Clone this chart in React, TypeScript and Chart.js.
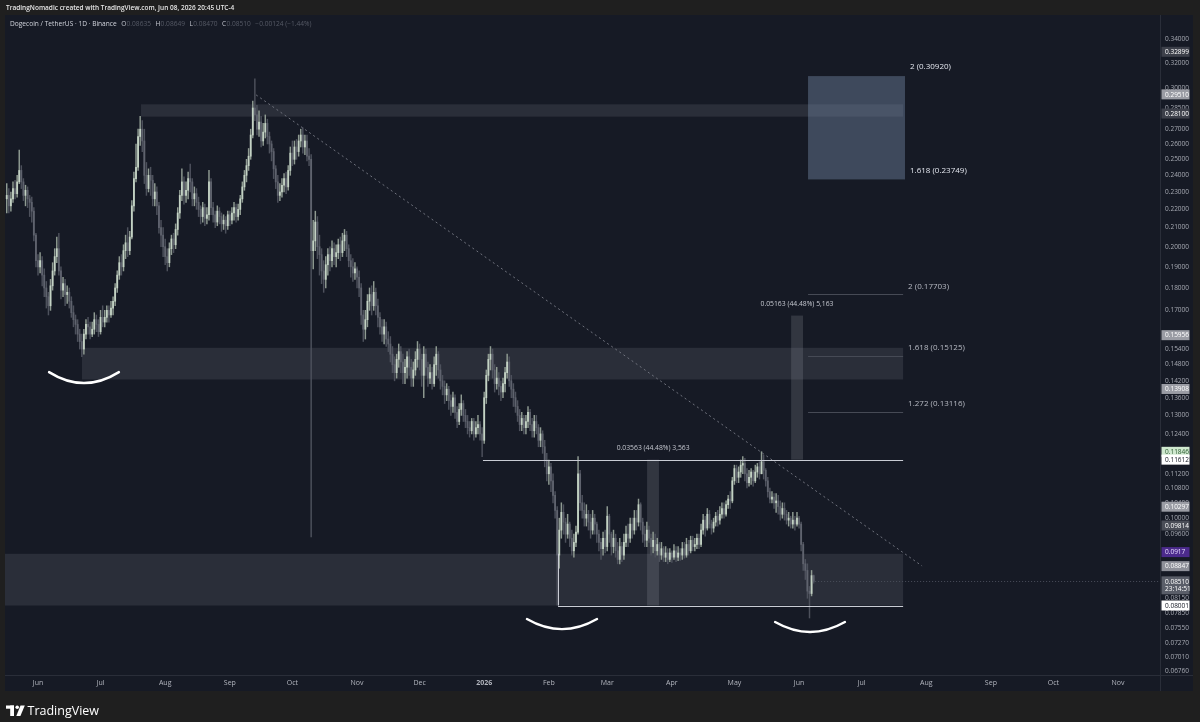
import React, { useEffect, useRef } from "react";
import { Chart, registerables } from "chart.js";

Chart.register(...registerables);

// Daily DOGE/USDT candles. Day index counted from 2025-06-01 (day 0).
const firstDay = -15; // 2025-05-17
const firstOpen = 0.226; // open of first candle; later opens = previous close

const closes = [
  0.228, 0.222, 0.226, 0.232, 0.229, 0.236, 0.243, 0.236, 0.228, 0.231,
  0.226, 0.224, 0.219, 0.206, 0.193, 0.19, 0.193, 0.186, 0.18, 0.176,
  0.172, 0.181, 0.188, 0.195, 0.199, 0.188, 0.179, 0.182, 0.177, 0.178,
  0.174, 0.169, 0.166, 0.164, 0.16, 0.157, 0.154, 0.16, 0.164, 0.163,
  0.16, 0.162, 0.166, 0.164, 0.161, 0.167, 0.165, 0.167, 0.17, 0.168,
  0.171, 0.174, 0.18, 0.186, 0.192, 0.19, 0.198, 0.202, 0.198, 0.205,
  0.222, 0.238, 0.245, 0.265, 0.27, 0.262, 0.24, 0.232, 0.24, 0.237,
  0.226, 0.23, 0.222, 0.21, 0.206, 0.2, 0.195, 0.192, 0.199, 0.204,
  0.201, 0.209, 0.218, 0.228, 0.236, 0.228, 0.231, 0.238, 0.236, 0.226,
  0.229, 0.224, 0.22, 0.216, 0.221, 0.215, 0.217, 0.236, 0.221, 0.217,
  0.213, 0.219, 0.216, 0.212, 0.214, 0.211, 0.217, 0.214, 0.218, 0.221,
  0.216, 0.22, 0.226, 0.233, 0.24, 0.246, 0.252, 0.266, 0.285, 0.28,
  0.27, 0.275, 0.262, 0.268, 0.274, 0.265, 0.26, 0.255, 0.244, 0.236,
  0.228, 0.23, 0.234, 0.238, 0.233, 0.243, 0.254, 0.25, 0.258, 0.255,
  0.262, 0.266, 0.258, 0.262, 0.252, 0.25, 0.198, 0.203, 0.213, 0.2,
  0.196, 0.188, 0.184, 0.191, 0.196, 0.193, 0.199, 0.195, 0.197, 0.201,
  0.197, 0.203, 0.206, 0.199, 0.193, 0.19, 0.187, 0.189, 0.185, 0.18,
  0.168, 0.162, 0.166, 0.174, 0.177, 0.172, 0.178, 0.172, 0.167, 0.163,
  0.16, 0.163, 0.158, 0.156, 0.152, 0.148, 0.145, 0.15, 0.153, 0.149,
  0.145, 0.147, 0.151, 0.147, 0.143, 0.146, 0.15, 0.154, 0.15, 0.144,
  0.152, 0.147, 0.143, 0.145, 0.141, 0.148, 0.152, 0.146, 0.142, 0.14,
  0.137, 0.139, 0.135, 0.133, 0.136, 0.131, 0.128, 0.132, 0.134, 0.13,
  0.128, 0.126, 0.125, 0.128, 0.124, 0.126, 0.127, 0.124, 0.122, 0.136,
  0.144, 0.15, 0.152, 0.146, 0.141, 0.143, 0.14, 0.138, 0.141, 0.145,
  0.149, 0.142, 0.139, 0.136, 0.133, 0.13, 0.127, 0.129, 0.126, 0.128,
  0.131, 0.127, 0.125, 0.128, 0.126, 0.122, 0.124, 0.12, 0.116, 0.112,
  0.114, 0.11, 0.106, 0.102, 0.091, 0.097, 0.1015, 0.099, 0.096, 0.0985,
  0.095, 0.092, 0.094, 0.0965, 0.112, 0.104, 0.102, 0.1, 0.101, 0.099,
  0.097, 0.1, 0.0985, 0.096, 0.094, 0.0925, 0.095, 0.093, 0.1005, 0.096,
  0.093, 0.095, 0.092, 0.09, 0.093, 0.091, 0.094, 0.096, 0.095, 0.0985,
  0.097, 0.1, 0.099, 0.1035, 0.099, 0.096, 0.0945, 0.097, 0.095, 0.093,
  0.0945, 0.092, 0.0935, 0.091, 0.0925, 0.0905, 0.0915, 0.09, 0.0915, 0.0905,
  0.092, 0.0905, 0.0915, 0.091, 0.0925, 0.091, 0.0935, 0.092, 0.0945, 0.093,
  0.0935, 0.095, 0.0935, 0.097, 0.0995, 0.0975, 0.101, 0.0985, 0.0975, 0.099,
  0.1005, 0.0995, 0.101, 0.1025, 0.101, 0.1035, 0.105, 0.1045, 0.11, 0.1135,
  0.111, 0.1125, 0.1145, 0.115, 0.112, 0.1095, 0.111, 0.1125, 0.11, 0.1125,
  0.114, 0.112, 0.1155, 0.113, 0.11, 0.107, 0.105, 0.1055, 0.104, 0.1045,
  0.103, 0.101, 0.1025, 0.101, 0.0995, 0.1, 0.0985, 0.0995, 0.0985, 0.1,
  0.0985, 0.0935, 0.089, 0.0875, 0.083, 0.0825, 0.08635, 0.0851,
];

const highs = [
  0.235, 0.232, 0.23, 0.236, 0.237, 0.24, 0.256, 0.246, 0.238, 0.234,
  0.233, 0.228, 0.227, 0.221, 0.207, 0.196, 0.197, 0.195, 0.189, 0.183,
  0.178, 0.184, 0.192, 0.199, 0.205, 0.207, 0.19, 0.185, 0.184, 0.181,
  0.18, 0.176, 0.172, 0.168, 0.166, 0.162, 0.16, 0.162, 0.166, 0.167,
  0.165, 0.165, 0.169, 0.168, 0.166, 0.17, 0.172, 0.17, 0.172, 0.172,
  0.174, 0.176, 0.182, 0.188, 0.195, 0.196, 0.201, 0.206, 0.21, 0.208,
  0.225, 0.242, 0.26, 0.27, 0.279, 0.276, 0.27, 0.248, 0.244, 0.245,
  0.24, 0.235, 0.233, 0.224, 0.214, 0.21, 0.204, 0.199, 0.202, 0.206,
  0.207, 0.212, 0.221, 0.231, 0.244, 0.239, 0.236, 0.242, 0.247, 0.238,
  0.233, 0.232, 0.227, 0.222, 0.224, 0.223, 0.221, 0.243, 0.238, 0.224,
  0.219, 0.222, 0.221, 0.218, 0.217, 0.216, 0.219, 0.219, 0.221, 0.224,
  0.223, 0.223, 0.228, 0.236, 0.243, 0.25, 0.257, 0.27, 0.29, 0.307,
  0.287, 0.283, 0.279, 0.274, 0.28, 0.277, 0.268, 0.262, 0.257, 0.246,
  0.24, 0.235, 0.238, 0.241, 0.242, 0.246, 0.258, 0.262, 0.262, 0.263,
  0.266, 0.27, 0.271, 0.266, 0.266, 0.257, 0.253, 0.214, 0.219, 0.216,
  0.206, 0.199, 0.193, 0.195, 0.199, 0.2, 0.203, 0.202, 0.201, 0.204,
  0.205, 0.207, 0.209, 0.208, 0.201, 0.196, 0.194, 0.192, 0.19, 0.188,
  0.182, 0.17, 0.17, 0.177, 0.18, 0.181, 0.183, 0.18, 0.175, 0.169,
  0.166, 0.166, 0.165, 0.161, 0.159, 0.155, 0.151, 0.152, 0.156, 0.155,
  0.152, 0.15, 0.153, 0.154, 0.15, 0.149, 0.153, 0.157, 0.156, 0.152,
  0.155, 0.154, 0.149, 0.148, 0.147, 0.151, 0.155, 0.153, 0.148, 0.144,
  0.142, 0.141, 0.14, 0.137, 0.138, 0.137, 0.133, 0.134, 0.137, 0.135,
  0.132, 0.13, 0.128, 0.129, 0.129, 0.128, 0.13, 0.128, 0.126, 0.138,
  0.146, 0.152, 0.155, 0.154, 0.148, 0.147, 0.145, 0.142, 0.143, 0.147,
  0.152, 0.151, 0.144, 0.141, 0.138, 0.135, 0.132, 0.131, 0.13, 0.13,
  0.133, 0.132, 0.129, 0.13, 0.13, 0.127, 0.126, 0.125, 0.122, 0.118,
  0.116, 0.115, 0.112, 0.107, 0.103, 0.1, 0.104, 0.1035, 0.1, 0.101,
  0.099, 0.097, 0.096, 0.098, 0.117, 0.113, 0.106, 0.104, 0.1035, 0.102,
  0.101, 0.102, 0.101, 0.099, 0.097, 0.095, 0.0965, 0.097, 0.103, 0.101,
  0.0965, 0.097, 0.096, 0.094, 0.095, 0.094, 0.096, 0.098, 0.0985, 0.1,
  0.1, 0.102, 0.102, 0.105, 0.104, 0.1, 0.098, 0.099, 0.098, 0.096,
  0.0965, 0.096, 0.095, 0.094, 0.094, 0.093, 0.093, 0.0925, 0.0925, 0.092,
  0.0935, 0.093, 0.093, 0.0925, 0.094, 0.094, 0.095, 0.0945, 0.0955, 0.0955,
  0.095, 0.096, 0.096, 0.0985, 0.101, 0.1005, 0.1025, 0.102, 0.0995, 0.1,
  0.1015, 0.102, 0.103, 0.104, 0.104, 0.1045, 0.106, 0.107, 0.111, 0.1145,
  0.1145, 0.114, 0.116, 0.117, 0.1165, 0.1135, 0.113, 0.1135, 0.113, 0.1145,
  0.115, 0.1155, 0.1185, 0.1175, 0.1135, 0.111, 0.108, 0.107, 0.1065, 0.1065,
  0.106, 0.1045, 0.104, 0.104, 0.102, 0.1015, 0.1005, 0.1015, 0.1005, 0.1015,
  0.1005, 0.099, 0.094, 0.09, 0.089, 0.084, 0.0875, 0.08649,
];

const lows = [
  0.218, 0.218, 0.219, 0.224, 0.226, 0.227, 0.235, 0.232, 0.225, 0.222,
  0.221, 0.216, 0.213, 0.203, 0.19, 0.186, 0.187, 0.181, 0.176, 0.171,
  0.168, 0.17, 0.179, 0.186, 0.192, 0.186, 0.175, 0.176, 0.172, 0.173,
  0.171, 0.167, 0.163, 0.16, 0.157, 0.154, 0.151, 0.152, 0.158, 0.16,
  0.158, 0.159, 0.16, 0.161, 0.159, 0.16, 0.163, 0.163, 0.165, 0.165,
  0.167, 0.168, 0.172, 0.178, 0.184, 0.186, 0.188, 0.194, 0.195, 0.196,
  0.204, 0.219, 0.236, 0.243, 0.259, 0.255, 0.235, 0.228, 0.23, 0.228,
  0.222, 0.222, 0.217, 0.207, 0.2, 0.195, 0.191, 0.188, 0.19, 0.196,
  0.197, 0.199, 0.206, 0.215, 0.225, 0.223, 0.224, 0.226, 0.23, 0.222,
  0.222, 0.22, 0.216, 0.212, 0.213, 0.211, 0.212, 0.214, 0.217, 0.213,
  0.21, 0.211, 0.212, 0.208, 0.209, 0.207, 0.209, 0.211, 0.212, 0.214,
  0.213, 0.214, 0.217, 0.224, 0.231, 0.236, 0.243, 0.25, 0.264, 0.276,
  0.266, 0.265, 0.258, 0.259, 0.264, 0.26, 0.254, 0.249, 0.238, 0.232,
  0.224, 0.225, 0.227, 0.23, 0.229, 0.231, 0.24, 0.246, 0.247, 0.25,
  0.252, 0.258, 0.254, 0.253, 0.249, 0.246, 0.0953, 0.189, 0.198, 0.194,
  0.186, 0.182, 0.178, 0.18, 0.186, 0.188, 0.19, 0.191, 0.19, 0.194,
  0.193, 0.195, 0.198, 0.195, 0.19, 0.185, 0.183, 0.184, 0.18, 0.176,
  0.164, 0.157, 0.158, 0.163, 0.17, 0.168, 0.17, 0.168, 0.163, 0.16,
  0.157, 0.156, 0.155, 0.153, 0.149, 0.145, 0.142, 0.143, 0.147, 0.145,
  0.141, 0.141, 0.143, 0.144, 0.14, 0.14, 0.144, 0.147, 0.146, 0.14,
  0.136, 0.144, 0.14, 0.141, 0.139, 0.14, 0.144, 0.143, 0.139, 0.137,
  0.134, 0.135, 0.132, 0.13, 0.131, 0.129, 0.126, 0.127, 0.13, 0.128,
  0.126, 0.124, 0.123, 0.124, 0.122, 0.123, 0.124, 0.122, 0.117, 0.121,
  0.134, 0.142, 0.146, 0.143, 0.138, 0.139, 0.137, 0.135, 0.136, 0.138,
  0.143, 0.14, 0.136, 0.133, 0.131, 0.128, 0.125, 0.125, 0.124, 0.124,
  0.126, 0.125, 0.123, 0.123, 0.124, 0.12, 0.12, 0.118, 0.114, 0.11,
  0.109, 0.107, 0.104, 0.1, 0.0801, 0.088, 0.095, 0.096, 0.094, 0.095,
  0.093, 0.091, 0.0905, 0.093, 0.096, 0.102, 0.1, 0.098, 0.098, 0.097,
  0.095, 0.096, 0.096, 0.094, 0.092, 0.09, 0.091, 0.0915, 0.092, 0.094,
  0.091, 0.0915, 0.0905, 0.089, 0.089, 0.0895, 0.09, 0.093, 0.093, 0.094,
  0.095, 0.096, 0.097, 0.098, 0.097, 0.094, 0.093, 0.093, 0.094, 0.091,
  0.0915, 0.0905, 0.091, 0.0895, 0.09, 0.0895, 0.0895, 0.089, 0.0895, 0.0893,
  0.09, 0.0895, 0.0897, 0.0898, 0.09, 0.0903, 0.0905, 0.091, 0.0915, 0.092,
  0.092, 0.0925, 0.0925, 0.093, 0.096, 0.0955, 0.097, 0.0975, 0.096, 0.0965,
  0.098, 0.098, 0.0985, 0.1, 0.1, 0.1005, 0.1025, 0.1025, 0.104, 0.109,
  0.1095, 0.1095, 0.111, 0.112, 0.11, 0.108, 0.1085, 0.109, 0.1085, 0.1095,
  0.111, 0.1105, 0.112, 0.1105, 0.1085, 0.1055, 0.104, 0.104, 0.1025, 0.1015,
  0.101, 0.0995, 0.1, 0.0995, 0.0985, 0.098, 0.0975, 0.0975, 0.097, 0.098,
  0.0975, 0.092, 0.0875, 0.0855, 0.0815, 0.0775, 0.082, 0.0847,
];

// Time axis: month starts (days from 2025-06-01) and their labels
const monthDays = [0, 30, 61, 92, 122, 153, 183, 214, 245, 273, 304, 334, 365, 395, 426, 457, 487, 518];
const monthLabels = ["Jun", "Jul", "Aug", "Sep", "Oct", "Nov", "Dec", "2026", "Feb", "Mar", "Apr", "May", "Jun", "Jul", "Aug", "Sep", "Oct", "Nov"];

// Price axis (log) tick values
const priceTicks = [
  0.34, 0.32, 0.3, 0.285, 0.27, 0.26, 0.25, 0.24, 0.23, 0.22, 0.21, 0.2, 0.19, 0.18, 0.17, 0.16,
  0.154, 0.148, 0.142, 0.136, 0.13, 0.124, 0.118, 0.112, 0.108, 0.104, 0.1, 0.096, 0.092, 0.088,
  0.0845, 0.0815, 0.0785, 0.0755, 0.0727, 0.0701, 0.0676,
];

// Drawn annotations, in (day, price) coordinates
const zones = [
  { d0: 49.4, d1: 414.9, top: 0.2877, bottom: 0.2788 },
  { d0: 21.1, d1: 414.9, top: 0.1545, bottom: 0.1425 },
  { d0: -20, d1: 414.9, top: 0.0913, bottom: 0.08001 },
];
const targetBox = { d0: 369.3, d1: 415.8, top: 0.3092, bottom: 0.23749 };
const targetLabels = [
  { text: "2 (0.30920)", price: 0.3092 },
  { text: "1.618 (0.23749)", price: 0.23749 },
];
const fibLevels = [0.17703, 0.15125, 0.13116];
const fibTexts = ["2 (0.17703)", "1.618 (0.15125)", "1.272 (0.13116)"];
const fibRange = { d0: 369.3, d1: 414.9 };
const rangeLines = [
  { d0: 213.4, d1: 414.9, price: 0.11612 },
  { d0: 249.4, d1: 414.9, price: 0.08001 },
];
const rangeEdge = { d: 249.4, top: 0.0913, bottom: 0.08001 };
const measureBars = [
  { d0: 292.1, d1: 297.8, top: 0.11612, bottom: 0.08001, text: "0.03563 (44.48%) 3,563", dText: 295 },
  { d0: 361.2, d1: 366.9, top: 0.16775, bottom: 0.11612, text: "0.05163 (44.48%) 5,163", dText: 364 },
];
const trendLine = { d0: 104.6, p0: 0.2947, d1: 424, p1: 0.0885 };
const smiles = [
  { d0: 5.3, d1: 38.8, pEnd: 0.1452, pCtrl: 0.1373 },
  { d0: 234.5, d1: 268.1, pEnd: 0.0773, pCtrl: 0.0734 },
  { d0: 353.5, d1: 387, pEnd: 0.0767, pCtrl: 0.0729 },
];
const lastPrice = 0.0851;
const axisBoxes = [
  { text: "0.32899", price: 0.32899, bg: "#3d404a", fg: "#ffffff" },
  { text: "0.29510", price: 0.2951, bg: "#9a9ca4", fg: "#ffffff" },
  { text: "0.28100", price: 0.281, bg: "#3d404a", fg: "#ffffff" },
  { text: "0.15956", price: 0.15956, bg: "#9a9ca4", fg: "#ffffff" },
  { text: "0.13908", price: 0.13908, bg: "#9a9ca4", fg: "#ffffff" },
  { text: "0.11846", price: 0.11846, bg: "#cfe8cf", fg: "#2e5e33" },
  { text: "0.11612", price: 0.11612, bg: "#ffffff", fg: "#131722" },
  { text: "0.10297", price: 0.10297, bg: "#9a9ca4", fg: "#ffffff" },
  { text: "0.09814", price: 0.09814, bg: "#4a4d57", fg: "#ffffff" },
  { text: "0.0917", price: 0.0917, bg: "#4b2a8c", fg: "#e6dcff" },
  { text: "0.08847", price: 0.08847, bg: "#8e9099", fg: "#ffffff" },
  { text: "0.08001", price: 0.08001, bg: "#ffffff", fg: "#131722" },
];
const lastBox = { text: "0.08510", sub: "23:14:51", price: 0.0851 };

const headerText = "TradingNomadic created with TradingView.com, Jun 08, 2026 20:45 UTC-4";
const titleText = "Dogecoin / TetherUS · 1D · Binance";
const ohlcText = [
  ["O", "0.08635"],
  ["H", "0.08649"],
  ["L", "0.08470"],
  ["C", "0.08510"],
];
const changeText = "−0.00124 (−1.44%)";

const W = 1200;
const H = 722;
const PANE_BG = "#161a25";
const FRAME_BG = "#1f1f1f";
const UP = "#c3d2c4";
const DOWN = "#5f636e";
const UP_WICK = "#8f9b92";
const DOWN_WICK = "#4d515c";
const FONT = "'Open Sans', 'DejaVu Sans', sans-serif";

export default function App() {
  const ref = useRef<HTMLCanvasElement>(null);

  useEffect(() => {
    const canvas = ref.current;
    if (!canvas) return;
    const opens = closes.map((c, i) => (i === 0 ? firstOpen : closes[i - 1]));
    const days = closes.map((_, i) => firstDay + i);
    const isUp = closes.map((c, i) => c >= opens[i]);
    const bodyColors = isUp.map((u) => (u ? UP : DOWN));
    const wickColors = isUp.map((u) => (u ? UP_WICK : DOWN_WICK));
    const wickData = days.map((d, i) => ({
      x: d,
      y: [Math.min(lows[i], opens[i], closes[i]), Math.max(highs[i], opens[i], closes[i])],
    }));
    const bodyData = days.map((d, i) => ({ x: d, y: [opens[i], closes[i]] }));

    const plugin = {
      id: "tvAnnotations",
      beforeDraw(chart: any) {
        const c = chart.ctx as CanvasRenderingContext2D;
        c.save();
        c.fillStyle = FRAME_BG;
        c.fillRect(0, 0, W, H);
        c.fillStyle = PANE_BG;
        c.fillRect(5, 15, 1188, 676);
        c.strokeStyle = "#2a2e39";
        c.lineWidth = 1;
        c.beginPath();
        c.moveTo(1160.5, 15);
        c.lineTo(1160.5, 691);
        c.moveTo(5, 675.5);
        c.lineTo(1193, 675.5);
        c.stroke();

        c.textBaseline = "middle";
        c.textAlign = "left";
        c.fillStyle = "#e6e6e6";
        c.font = `600 6.5px ${FONT}`;
        c.fillText(headerText, 6, 8);

        c.font = `6.6px ${FONT}`;
        c.fillStyle = "#d1d4dc";
        c.fillText(titleText, 10, 24);
        let x = 10 + c.measureText(titleText).width + 4.5;
        for (const [k, v] of ohlcText) {
          c.fillStyle = "#c4c7cf";
          c.fillText(k, x, 24);
          x += c.measureText(k).width + 0.3;
          c.fillStyle = "#565a66";
          c.fillText(v, x, 24);
          x += c.measureText(v).width + 4.5;
        }
        c.fillStyle = "#565a66";
        c.fillText(changeText, x, 24);

        // footer logo
        c.fillStyle = "#ffffff";
        c.fillRect(6, 705.5, 8, 3.2);
        c.fillRect(10.2, 705.5, 3.8, 10.5);
        c.beginPath();
        c.arc(17.2, 707.3, 1.8, 0, Math.PI * 2);
        c.fill();
        c.beginPath();
        c.moveTo(20.5, 705.5);
        c.lineTo(24.8, 705.5);
        c.lineTo(20.4, 716);
        c.lineTo(16.3, 716);
        c.closePath();
        c.fill();
        c.font = `500 12.5px ${FONT}`;
        c.fillText("TradingView", 27.5, 711);
        c.restore();
      },
      beforeDatasetsDraw(chart: any) {
        const c = chart.ctx as CanvasRenderingContext2D;
        const xs = chart.scales.x;
        const ys = chart.scales.y;
        const a = chart.chartArea;
        c.save();
        c.beginPath();
        c.rect(a.left, a.top, a.right - a.left, a.bottom - a.top);
        c.clip();
        c.fillStyle = "rgba(170,172,182,0.14)";
        for (const z of zones) {
          const x0 = xs.getPixelForValue(z.d0);
          const x1 = xs.getPixelForValue(z.d1);
          const y0 = ys.getPixelForValue(z.top);
          const y1 = ys.getPixelForValue(z.bottom);
          c.fillRect(x0, y0, x1 - x0, y1 - y0);
        }
        c.fillStyle = "rgba(150,153,164,0.22)";
        for (const m of measureBars) {
          const x0 = xs.getPixelForValue(m.d0);
          const x1 = xs.getPixelForValue(m.d1);
          const y0 = ys.getPixelForValue(m.top);
          const y1 = ys.getPixelForValue(m.bottom);
          c.fillRect(x0, y0, x1 - x0, y1 - y0);
        }
        {
          const x0 = xs.getPixelForValue(targetBox.d0);
          const x1 = xs.getPixelForValue(targetBox.d1);
          const y0 = ys.getPixelForValue(targetBox.top);
          const y1 = ys.getPixelForValue(targetBox.bottom);
          c.fillStyle = "rgba(110,130,160,0.45)";
          c.fillRect(x0, y0, x1 - x0, y1 - y0);
        }
        c.restore();
      },
      afterDatasetsDraw(chart: any) {
        const c = chart.ctx as CanvasRenderingContext2D;
        const xs = chart.scales.x;
        const ys = chart.scales.y;
        const a = chart.chartArea;
        c.save();
        c.beginPath();
        c.rect(a.left, a.top, a.right - a.left, a.bottom - a.top);
        c.clip();

        // trend line
        c.strokeStyle = "#6f727d";
        c.lineWidth = 1;
        c.setLineDash([2, 3]);
        c.beginPath();
        c.moveTo(xs.getPixelForValue(trendLine.d0), ys.getPixelForValue(trendLine.p0));
        c.lineTo(xs.getPixelForValue(trendLine.d1), ys.getPixelForValue(trendLine.p1));
        c.stroke();

        // last price line
        c.strokeStyle = "#4a4e5a";
        c.setLineDash([1, 2]);
        c.beginPath();
        const lpY = Math.round(ys.getPixelForValue(lastPrice)) + 0.5;
        c.moveTo(xs.getPixelForValue(372.7), lpY);
        c.lineTo(a.right, lpY);
        c.stroke();
        c.setLineDash([]);

        // range lines
        c.strokeStyle = "#c9ccd4";
        c.lineWidth = 1;
        c.beginPath();
        for (const r of rangeLines) {
          const y = Math.round(ys.getPixelForValue(r.price)) + 0.5;
          c.moveTo(xs.getPixelForValue(r.d0), y);
          c.lineTo(xs.getPixelForValue(r.d1), y);
        }
        const ex = Math.round(xs.getPixelForValue(rangeEdge.d)) + 0.5;
        c.moveTo(ex, ys.getPixelForValue(rangeEdge.top));
        c.lineTo(ex, ys.getPixelForValue(rangeEdge.bottom));
        c.stroke();

        // fib lines
        c.strokeStyle = "#464a55";
        c.beginPath();
        for (const p of fibLevels) {
          const y = Math.round(ys.getPixelForValue(p)) + 0.5;
          c.moveTo(xs.getPixelForValue(fibRange.d0), y);
          c.lineTo(xs.getPixelForValue(fibRange.d1), y);
        }
        c.stroke();

        // smiles
        c.strokeStyle = "#ffffff";
        c.lineWidth = 2.4;
        c.lineCap = "round";
        for (const s of smiles) {
          const x0 = xs.getPixelForValue(s.d0);
          const x1 = xs.getPixelForValue(s.d1);
          const ye = ys.getPixelForValue(s.pEnd);
          const yc = ys.getPixelForValue(s.pCtrl);
          c.beginPath();
          c.moveTo(x0, ye);
          c.quadraticCurveTo((x0 + x1) / 2, yc, x1, ye);
          c.stroke();
        }

        // texts
        c.textBaseline = "middle";
        c.font = `8px ${FONT}`;
        c.textAlign = "left";
        c.fillStyle = "#e3e6ee";
        for (const t of targetLabels) {
          c.fillText(t.text, xs.getPixelForValue(418.2), ys.getPixelForValue(t.price) - 9);
        }
        c.fillStyle = "#b8bbc4";
        fibLevels.forEach((p, i) => {
          c.fillText(fibTexts[i], xs.getPixelForValue(417.3), ys.getPixelForValue(p) - 8);
        });
        c.font = `6.8px ${FONT}`;
        c.textAlign = "center";
        c.fillStyle = "#c4c7cf";
        for (const m of measureBars) {
          c.fillText(m.text, xs.getPixelForValue(m.dText), ys.getPixelForValue(m.top) - 12);
        }
        c.restore();

        // price-axis labels
        c.save();
        c.textBaseline = "middle";
        c.textAlign = "left";
        c.font = `6.5px ${FONT}`;
        for (const b of axisBoxes) {
          const y = ys.getPixelForValue(b.price);
          c.fillStyle = b.bg;
          c.fillRect(1161.5, y - 5, 28, 10);
          c.fillStyle = b.fg;
          c.fillText(b.text, 1165, y + 0.3);
        }
        const ly = ys.getPixelForValue(lastBox.price);
        c.fillStyle = "#5a5e69";
        c.fillRect(1161.5, ly - 5, 28, 18);
        c.fillStyle = "#ffffff";
        c.fillText(lastBox.text, 1165, ly + 0.3);
        c.fillText(lastBox.sub, 1165, ly + 8);
        c.restore();
      },
    };

    Chart.defaults.font.family = FONT;
    const chart = new Chart(canvas, {
      type: "bar",
      data: {
        datasets: [
          {
            label: "wicks",
            data: wickData as any,
            backgroundColor: wickColors,
            borderWidth: 0,
            barThickness: 0.8,
            grouped: false,
            order: 2,
          } as any,
          {
            label: "bodies",
            data: bodyData as any,
            backgroundColor: bodyColors,
            borderWidth: 0,
            barThickness: 1.15,
            minBarLength: 1,
            grouped: false,
            order: 1,
          } as any,
        ],
      },
      plugins: [plugin],
      options: {
        responsive: false,
        animation: false,
        devicePixelRatio: 1,
        layout: { padding: { left: 5, top: 15, right: 7, bottom: 31 } },
        plugins: { legend: { display: false }, tooltip: { enabled: false } },
        scales: {
          x: {
            type: "linear",
            min: -15.83,
            max: 538.1,
            offset: false,
            grid: { display: false, drawTicks: false },
            border: { display: false },
            afterBuildTicks: (scale: any) => {
              scale.ticks = monthDays.map((v) => ({ value: v }));
            },
            afterFit: (scale: any) => {
              scale.height = 16;
            },
            ticks: {
              autoSkip: false,
              maxRotation: 0,
              padding: 4,
              color: "#b2b5be",
              font: (ctx: any) => ({
                size: 7,
                weight: ctx.tick && ctx.tick.value === 214 ? "bold" : "normal",
              }),
              callback: (v: any) => {
                const i = monthDays.indexOf(Number(v));
                return i >= 0 ? monthLabels[i] : "";
              },
            },
          },
          y: {
            type: "logarithmic",
            position: "right",
            min: 0.067,
            max: 0.3614,
            grid: { display: false, drawTicks: false },
            border: { display: false },
            afterBuildTicks: (scale: any) => {
              scale.ticks = priceTicks.map((v) => ({ value: v }));
            },
            afterFit: (scale: any) => {
              scale.width = 33;
            },
            ticks: {
              autoSkip: false,
              padding: 5,
              color: "#a7aab3",
              font: { size: 6.5 },
              callback: (v: any) => Number(v).toFixed(5),
            },
          },
        },
      } as any,
    });
    return () => chart.destroy();
  }, []);

  return (
    <div style={{ position: "fixed", left: 0, top: 0, width: W, height: H, background: FRAME_BG }}>
      <canvas ref={ref} width={W} height={H} style={{ display: "block", width: W, height: H }} />
    </div>
  );
}
